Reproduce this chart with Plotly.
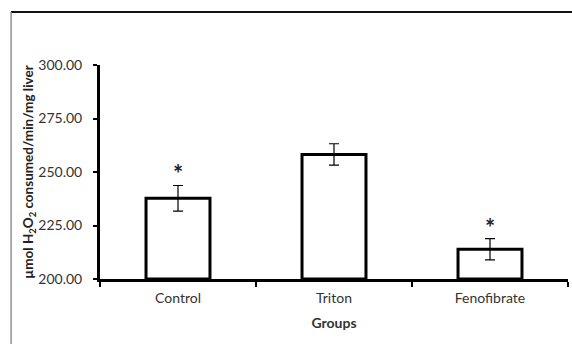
import plotly.graph_objects as go

groups = ["Control", "Triton", "Fenofibrate"]
means = [237.7, 258.2, 213.9]
errors = [6.0, 5.0, 5.0]
marks = ["*", "", "*"]
y_ticks = [200, 225, 250, 275, 300]

text_color = "#333333"
font_family = "Lato, 'Open Sans', sans-serif"

fig = go.Figure()
fig.add_trace(go.Bar(
    x=groups,
    y=[m - 200 for m in means],
    base=200,
    width=0.41,
    marker=dict(color="white", line=dict(color="black", width=3)),
    error_y=dict(type="data", array=errors, visible=True,
                 color="black", thickness=1.2, width=5),
    showlegend=False,
    hoverinfo="skip",
))

for g, m, e, s in zip(groups, means, errors, marks):
    if s:
        fig.add_annotation(x=g, y=m + e, text=f"<b>{s}</b>", showarrow=False,
                           yanchor="bottom", yshift=-5,
                           font=dict(size=24, color="#222", family=font_family))

fig.update_layout(
    width=572, height=344,
    margin=dict(l=100, r=4, t=65, b=65),
    paper_bgcolor="white", plot_bgcolor="white",
    font=dict(family=font_family, color=text_color),
    bargap=0.59,
    xaxis=dict(
        type="category",
        showline=True, linecolor="black", linewidth=3,
        ticks="outside", tickson="boundaries", ticklen=5,
        tickwidth=2, tickcolor="black",
        ticklabelstandoff=4,
        tickfont=dict(size=14, color=text_color),
        title=dict(text="<b>Groups</b>", font=dict(size=14, color=text_color),
                   standoff=14),
        showgrid=False, zeroline=False,
    ),
    yaxis=dict(
        range=[200, 300],
        tickvals=y_ticks,
        ticktext=[f"{v:.2f}" for v in y_ticks],
        showline=True, linecolor="black", linewidth=3,
        ticks="outside", ticklen=4, tickwidth=2, tickcolor="black",
        ticklabelstandoff=8,
        tickfont=dict(size=14, color=text_color),
        title=dict(text="<b>µmol H<sub>2</sub>O<sub>2</sub> consumed/min/mg liver</b>",
                   font=dict(size=13.5, color="#222"), standoff=2),
        showgrid=False, zeroline=False,
    ),
    shapes=[
        # frame around the chart (left and top edges)
        dict(type="line", xref="paper", yref="paper",
             x0=-0.19, x1=1.2, y0=1.2477, y1=1.2477,
             line=dict(color="#111", width=2)),
        dict(type="line", xref="paper", yref="paper",
             x0=-0.19, x1=-0.19, y0=1.2477, y1=-0.4,
             line=dict(color="#777", width=1.2)),
    ],
)

fig.write_html("out.html")
